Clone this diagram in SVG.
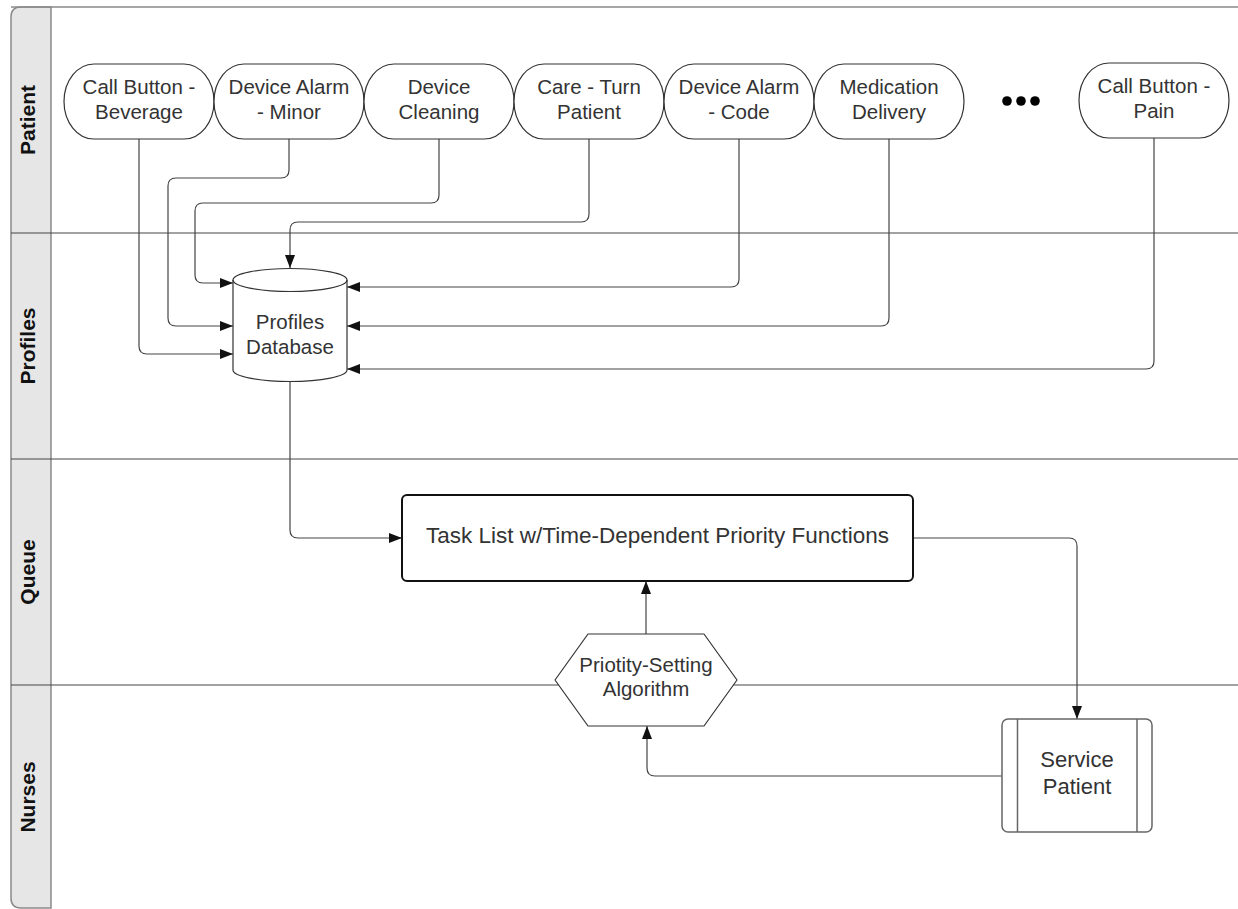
<svg xmlns="http://www.w3.org/2000/svg" width="1238" height="909" viewBox="0 0 1238 909">
<style>
.lane{fill:none;stroke:#444;stroke-width:1}
.hdr{fill:#e6e6e6;stroke:#8a8a8a;stroke-width:1.5}
.lbl{font-family:"Liberation Sans",Arial,sans-serif;font-weight:bold;font-size:21px;fill:#111;text-anchor:middle}
.node{fill:#fff;stroke:#333;stroke-width:1.2}
.t{font-family:"Liberation Sans",Arial,sans-serif;font-size:20.5px;fill:#333;text-anchor:middle}
.conn{fill:none;stroke:#444;stroke-width:1.2}
</style>
<defs>
<marker id="ah" markerUnits="userSpaceOnUse" markerWidth="14" markerHeight="11" refX="13" refY="5" orient="auto">
<path d="M0,0 L13,5 L0,10 Z" fill="#111"/>
</marker>
</defs>
<rect width="1238" height="909" fill="#fff"/>
<g id="lanes">
<path class="hdr" d="M51,7 H21 Q11,7 11,17 V898 Q11,908 21,908 H51 Z"/>
<line class="lane" x1="11" y1="7" x2="1238" y2="7" style="stroke:#8a8a8a;stroke-width:1.5"/>
<line class="lane" x1="11" y1="233" x2="1238" y2="233"/>
<line class="lane" x1="11" y1="459" x2="1238" y2="459"/>
<line class="lane" x1="11" y1="685" x2="1238" y2="685"/>
<text class="lbl" transform="translate(35,120) rotate(-90)">Patient</text>
<text class="lbl" transform="translate(35,346) rotate(-90)">Profiles</text>
<text class="lbl" transform="translate(35,572) rotate(-90)">Queue</text>
<text class="lbl" transform="translate(35,797) rotate(-90)">Nurses</text>
</g>
<g id="connectors">
<path class="conn" marker-end="url(#ah)" d="M139,139 V346 Q139,354 147,354 H233"/>
<path class="conn" marker-end="url(#ah)" d="M289,139 V170 Q289,178 281,178 H176 Q168,178 168,186 V318 Q168,326 176,326 H233"/>
<path class="conn" marker-end="url(#ah)" d="M439,139 V195 Q439,203 431,203 H203 Q195,203 195,211 V275 Q195,283 203,283 H233"/>
<path class="conn" marker-end="url(#ah)" d="M589,139 V214 Q589,222 581,222 H298 Q290,222 290,230 V268"/>
<path class="conn" marker-end="url(#ah)" d="M739,139 V279 Q739,287 731,287 H347"/>
<path class="conn" marker-end="url(#ah)" d="M889,139 V318 Q889,326 881,326 H347"/>
<path class="conn" marker-end="url(#ah)" d="M1154,138 V361 Q1154,369 1146,369 H347"/>
<path class="conn" marker-end="url(#ah)" d="M290,382 V530 Q290,538 298,538 H402"/>
<path class="conn" marker-end="url(#ah)" d="M913,538 H1069 Q1077,538 1077,546 V719"/>
<path class="conn" marker-end="url(#ah)" d="M1002,776 H655 Q647,776 647,768 V726"/>
<path class="conn" marker-end="url(#ah)" d="M646,634 V581"/>
</g>
<g id="n-beverage"><rect class="node" x="64" y="64" width="150" height="75" rx="30" ry="37.5"/><text class="t" x="139" y="94">Call Button -</text><text class="t" x="139" y="118.5">Beverage</text></g>
<g id="n-minor"><rect class="node" x="214" y="64" width="150" height="75" rx="30" ry="37.5"/><text class="t" x="289" y="94">Device Alarm</text><text class="t" x="289" y="118.5">- Minor</text></g>
<g id="n-cleaning"><rect class="node" x="364" y="64" width="150" height="75" rx="30" ry="37.5"/><text class="t" x="439" y="94">Device</text><text class="t" x="439" y="118.5">Cleaning</text></g>
<g id="n-turn"><rect class="node" x="514" y="64" width="150" height="75" rx="30" ry="37.5"/><text class="t" x="589" y="94">Care - Turn</text><text class="t" x="589" y="118.5">Patient</text></g>
<g id="n-code"><rect class="node" x="664" y="64" width="150" height="75" rx="30" ry="37.5"/><text class="t" x="739" y="94">Device Alarm</text><text class="t" x="739" y="118.5">- Code</text></g>
<g id="n-medication"><rect class="node" x="814" y="64" width="150" height="75" rx="30" ry="37.5"/><text class="t" x="889" y="94">Medication</text><text class="t" x="889" y="118.5">Delivery</text></g>
<g id="n-dots"><circle cx="1007" cy="101" r="4.8" fill="#000"/><circle cx="1021" cy="101" r="4.8" fill="#000"/><circle cx="1035" cy="101" r="4.8" fill="#000"/></g>
<g id="n-pain"><rect class="node" x="1079" y="63" width="150" height="75" rx="30" ry="37.5"/><text class="t" x="1154" y="93">Call Button -</text><text class="t" x="1154" y="117.5">Pain</text></g>
<g id="n-db">
<path class="node" d="M233,280 A57,11.5 0 0,1 347,280 V370 A57,11.5 0 0,1 233,370 Z"/>
<path class="node" style="fill:none" d="M233,280 A57,11.5 0 0,0 347,280"/>
<text class="t" x="290" y="329">Profiles</text><text class="t" x="290" y="354">Database</text>
</g>
<g id="n-task"><rect x="402" y="495" width="511" height="86" rx="5" fill="#fff" stroke="#111" stroke-width="2"/><text class="t" x="657.5" y="543" style="font-size:22.5px">Task List w/Time-Dependent Priority Functions</text></g>
<g id="n-algo"><path class="node" stroke-linejoin="round" d="M555,680 L588,634 H704 L737,680 L704,726 H588 Z"/><text class="t" x="646" y="672">Priotity-Setting</text><text class="t" x="646" y="696">Algorithm</text></g>
<g id="n-service"><rect x="1002" y="719" width="150" height="113" rx="6" fill="#fff" stroke="#666" stroke-width="1.5"/><line x1="1017.5" y1="719" x2="1017.5" y2="832" stroke="#666" stroke-width="1.5"/><line x1="1137" y1="719" x2="1137" y2="832" stroke="#666" stroke-width="1.5"/><text class="t" x="1077" y="767" style="font-size:22px">Service</text><text class="t" x="1077" y="794" style="font-size:22px">Patient</text></g>
</svg>
